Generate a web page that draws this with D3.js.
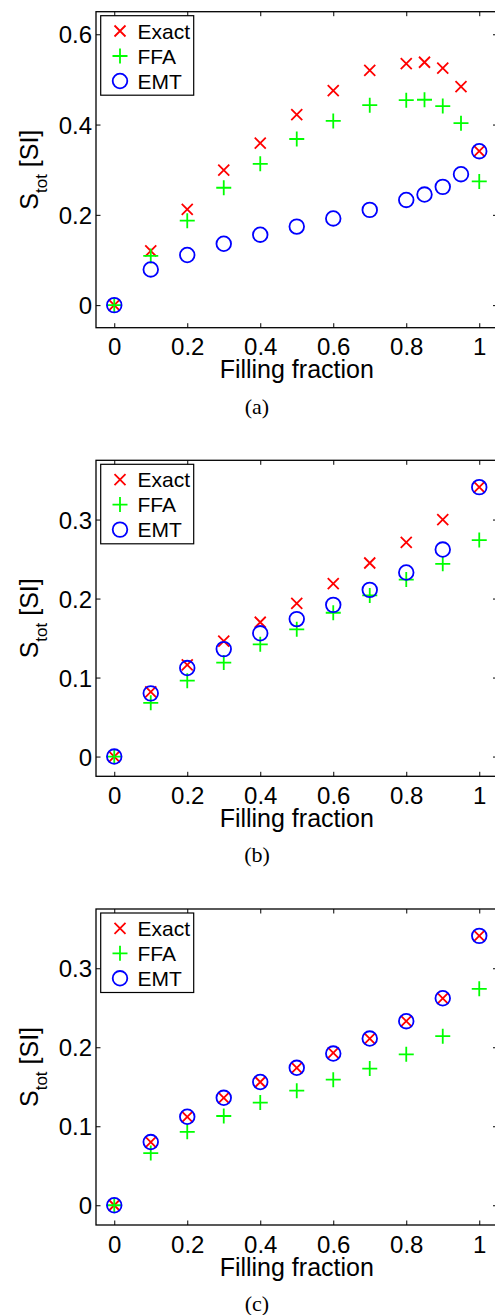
<!DOCTYPE html>
<html>
<head>
<meta charset="utf-8">
<script src="https://cdn.jsdelivr.net/npm/d3@7"></script>
<style>
  html, body { margin: 0; padding: 0; background: #fff; }
  svg { display: block; }
</style>
</head>
<body>
<svg id="chart" width="495" height="1315"></svg>
<script>
// ---- data ----
const fillA = [0, 0.1, 0.2, 0.3, 0.4, 0.5, 0.6, 0.7, 0.8, 0.85, 0.9, 0.95, 1.0];
const exactA = [0, 0.120, 0.212, 0.299, 0.359, 0.422, 0.475, 0.520, 0.535, 0.538, 0.525, 0.484, 0.341];
const ffaA   = [0, 0.109, 0.187, 0.260, 0.313, 0.368, 0.408, 0.443, 0.454, 0.455, 0.441, 0.403, 0.274];
const emtA   = [0, 0.079, 0.111, 0.136, 0.156, 0.174, 0.192, 0.211, 0.233, 0.245, 0.262, 0.290, 0.341];

const fillBC = [0, 0.1, 0.2, 0.3, 0.4, 0.5, 0.6, 0.7, 0.8, 0.9, 1.0];
const exactB = [0, 0.082, 0.116, 0.146, 0.170, 0.194, 0.219, 0.245, 0.271, 0.300, 0.341];
const ffaB   = [0, 0.068, 0.096, 0.119, 0.142, 0.161, 0.182, 0.204, 0.224, 0.244, 0.274];
const emtB   = [0, 0.080, 0.112, 0.136, 0.156, 0.174, 0.192, 0.211, 0.233, 0.262, 0.341];

const exactC = [0, 0.080, 0.112, 0.136, 0.156, 0.174, 0.193, 0.211, 0.233, 0.262, 0.341];
const ffaC   = [0, 0.066, 0.093, 0.113, 0.130, 0.145, 0.159, 0.173, 0.191, 0.214, 0.274];
const emtC   = [0, 0.080, 0.112, 0.136, 0.156, 0.174, 0.192, 0.211, 0.233, 0.262, 0.341];

const xTicks = [0, 0.2, 0.4, 0.6, 0.8, 1];
const xTickLabels = ["0", "0.2", "0.4", "0.6", "0.8", "1"];
const yTicksA = [0, 0.2, 0.4, 0.6];
const yTicksBC = [0, 0.1, 0.2, 0.3];
const seriesNames = ["Exact", "FFA", "EMT"];
const captions = ["(a)", "(b)", "(c)"];
const xLabel = "Filling fraction";

// ---- layout ----
const svg = d3.select("#chart");
const FONT = "'Liberation Sans', Arial, Helvetica, sans-serif";
const left = 96, right = 497.5, plotH = 316;
const colors = { Exact: "#ff0000", FFA: "#00ff00", EMT: "#0000ff" };

const panels = [
  { top: 11.7, ydom: [-0.05, 0.65], yticks: yTicksA, x: fillA, ser: { Exact: exactA, FFA: ffaA, EMT: emtA }, cap: captions[0] },
  { top: 460.3, ydom: [-0.025, 0.375], yticks: yTicksBC, x: fillBC, ser: { Exact: exactB, FFA: ffaB, EMT: emtB }, cap: captions[1] },
  { top: 909, ydom: [-0.025, 0.375], yticks: yTicksBC, x: fillBC, ser: { Exact: exactC, FFA: ffaC, EMT: emtC }, cap: captions[2] }
];

function drawMarker(g, type, cx, cy) {
  const c = colors[type];
  if (type === "Exact") {
    const s = 5.5;
    g.append("path").attr("d", `M${cx - s},${cy - s}L${cx + s},${cy + s}M${cx - s},${cy + s}L${cx + s},${cy - s}`)
      .attr("stroke", c).attr("stroke-width", 1.8).attr("fill", "none");
  } else if (type === "FFA") {
    const s = 7.5;
    g.append("path").attr("d", `M${cx - s},${cy}L${cx + s},${cy}M${cx},${cy - s}L${cx},${cy + s}`)
      .attr("stroke", c).attr("stroke-width", 1.8).attr("fill", "none");
  } else {
    g.append("circle").attr("cx", cx).attr("cy", cy).attr("r", 7.3)
      .attr("stroke", c).attr("stroke-width", 1.8).attr("fill", "none");
  }
}

panels.forEach(p => {
  const bottom = p.top + plotH;
  const x = d3.scaleLinear().domain([-0.05, 1.05]).range([left, right]);
  const y = d3.scaleLinear().domain(p.ydom).range([bottom, p.top]);
  const g = svg.append("g");

  // axes with inward ticks on all four sides
  const tl = 4.5;
  const ax = g.append("g").attr("font-family", FONT);
  const xb = d3.axisBottom(x).tickValues(xTicks).tickSize(-tl).tickSizeOuter(0).tickFormat((d, i) => xTickLabels[i]);
  const xt = d3.axisTop(x).tickValues(xTicks).tickSize(-tl).tickSizeOuter(0).tickFormat("");
  const yl = d3.axisLeft(y).tickValues(p.yticks).tickSize(-tl).tickSizeOuter(0).tickFormat(d => d3.format("")(d));
  const yr = d3.axisRight(y).tickValues(p.yticks).tickSize(-tl).tickSizeOuter(0).tickFormat("");

  const gxb = ax.append("g").attr("transform", `translate(0,${bottom})`).call(xb);
  const gxt = ax.append("g").attr("transform", `translate(0,${p.top})`).call(xt);
  const gyl = ax.append("g").attr("transform", `translate(${left},0)`).call(yl);
  const gyr = ax.append("g").attr("transform", `translate(${right},0)`).call(yr);
  [gxb, gxt, gyl, gyr].forEach(a => {
    a.select(".domain").remove();
    a.selectAll(".tick line").attr("stroke", "#000").attr("stroke-width", 1);
    a.selectAll(".tick text").attr("fill", "#000").attr("font-size", 24).attr("font-family", FONT);
  });
  gxb.selectAll(".tick text").attr("dy", null).attr("y", 27.5);
  gyl.selectAll(".tick text").attr("x", -4).attr("dy", "0.36em");

  // box
  g.append("rect").attr("x", left).attr("y", p.top).attr("width", right - left).attr("height", plotH)
    .attr("fill", "none").attr("stroke", "#000").attr("stroke-width", 1.3);

  // data
  const marks = g.append("g");
  seriesNames.forEach(name => {
    p.ser[name].forEach((v, i) => drawMarker(marks, name, x(p.x[i]), y(v)));
  });

  // legend
  const lg = g.append("g");
  lg.append("rect").attr("x", 100.7).attr("y", p.top + 4).attr("width", 93).attr("height", 79.5)
    .attr("fill", "#fff").attr("stroke", "#000").attr("stroke-width", 1.2);
  seriesNames.forEach((name, i) => {
    const cy = p.top + 19.3 + i * 25;
    drawMarker(lg, name, 120, cy);
    lg.append("text").attr("x", 137.5).attr("y", cy).attr("dy", "0.36em")
      .attr("font-family", FONT).attr("font-size", 21).attr("fill", "#000").text(name);
  });

  // x label
  g.append("text").attr("x", (left + right) / 2).attr("y", bottom + 50.5)
    .attr("text-anchor", "middle").attr("font-family", FONT).attr("font-size", 25).attr("fill", "#000")
    .text(xLabel);

  // y label
  const yt = g.append("text").attr("transform", `translate(38,${(p.top + bottom) / 2}) rotate(-90)`)
    .attr("text-anchor", "middle").attr("font-family", FONT).attr("font-size", 25).attr("fill", "#000");
  yt.append("tspan").text("S");
  yt.append("tspan").attr("font-size", 17).attr("dy", 9).text("tot");
  yt.append("tspan").attr("dy", -9).text(" [SI]");

  // caption
  g.append("text").attr("x", 257).attr("y", bottom + 86)
    .attr("text-anchor", "middle").attr("font-family", "'Liberation Serif', 'DejaVu Serif', serif")
    .attr("font-size", 22).attr("fill", "#000").text(p.cap);
});
</script>
</body>
</html>
